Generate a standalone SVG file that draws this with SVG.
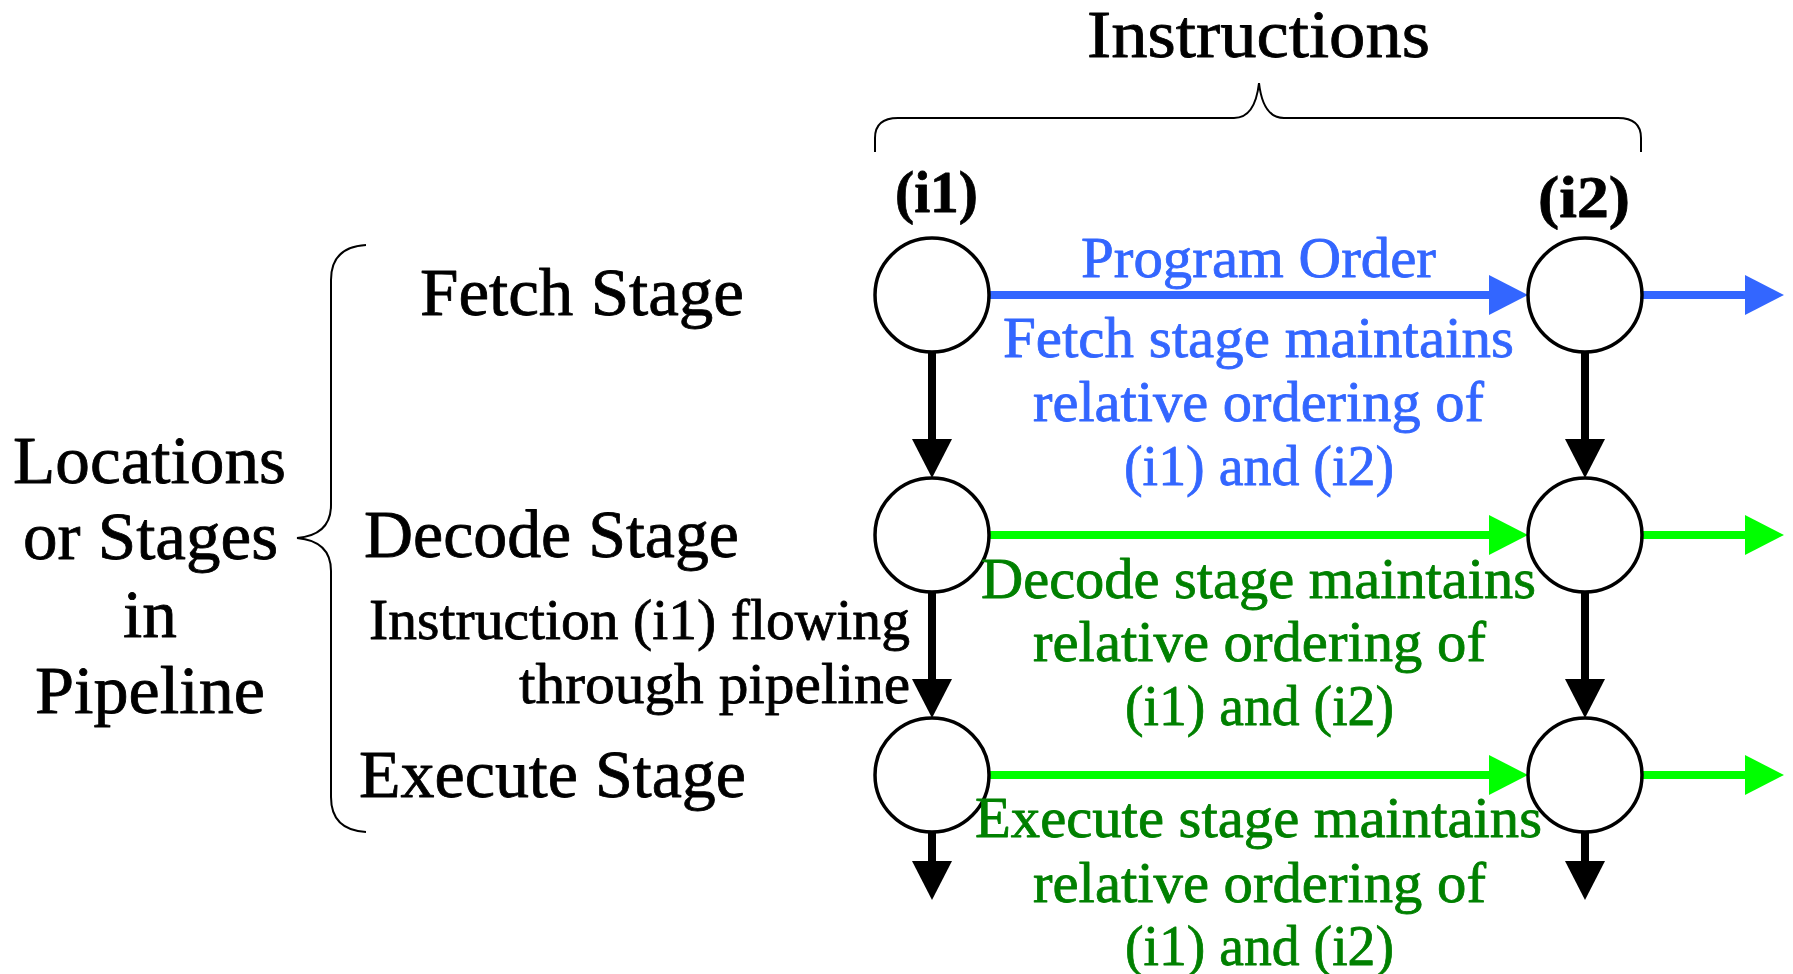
<svg xmlns="http://www.w3.org/2000/svg" width="1793" height="974" viewBox="0 0 1793 974">
  <style>
    text { font-family: "Liberation Serif", "Times New Roman", serif; stroke-width: 0.8; stroke-linejoin: round; }
    .lbl { font-size: 68px; fill: #000; stroke: #000; }
    .note { font-size: 58px; fill: #000; stroke: #000; }
    .blue { font-size: 58px; fill: #3366ff; stroke: #3366ff; }
    .green { font-size: 58px; fill: #008000; stroke: #008000; }
    .tag { font-size: 60px; font-weight: bold; fill: #000; stroke: #000; }
    .node { fill: #fff; stroke: #000; stroke-width: 3.5; }
    .brace { fill: none; stroke: #000; stroke-width: 2; }
    .flow { stroke: #000; stroke-width: 8; fill: none; }
    .order { stroke: #3366ff; stroke-width: 8; fill: none; }
    .keep { stroke: #00ff00; stroke-width: 8; fill: none; }
  </style>
  <defs>
    <marker id="headBlack" markerUnits="userSpaceOnUse" viewBox="0 0 39 40" refX="0" refY="20" markerWidth="39" markerHeight="40" orient="auto">
      <path d="M0,0 L39,20 L0,40 Z" fill="#000"/>
    </marker>
    <marker id="headBlue" markerUnits="userSpaceOnUse" viewBox="0 0 39 40" refX="0" refY="20" markerWidth="39" markerHeight="40" orient="auto">
      <path d="M0,0 L39,20 L0,40 Z" fill="#3366ff"/>
    </marker>
    <marker id="headGreen" markerUnits="userSpaceOnUse" viewBox="0 0 39 40" refX="0" refY="20" markerWidth="39" markerHeight="40" orient="auto">
      <path d="M0,0 L39,20 L0,40 Z" fill="#00ff00"/>
    </marker>
  </defs>

  <rect width="1793" height="974" fill="#fff"/>

  <!-- Braces -->
  <g id="braces">
    <path class="brace" d="M875,152 L875,138 Q875,118 898,118 L1234,118 Q1255,118 1259,83 Q1263,118 1284,118 L1618,118 Q1641,118 1641,138 L1641,152"/>
    <path class="brace" d="M366,245 Q331,247 331,280 L331,505 Q331,535 297,538 Q331,541 331,571 L331,797 Q331,830 366,832"/>
  </g>

  <!-- Headings -->
  <g id="titles">
    <text class="lbl" x="1087" y="57" font-size="70" textLength="343" lengthAdjust="spacingAndGlyphs">Instructions</text>
    <text class="tag" x="895" y="212" font-size="58" textLength="83" lengthAdjust="spacingAndGlyphs">(i1)</text>
    <text class="tag" x="1538" y="217" font-size="62" textLength="92" lengthAdjust="spacingAndGlyphs">(i2)</text>
  </g>

  <g id="side-label">
    <text class="lbl" x="13" y="483" font-size="69" textLength="273" lengthAdjust="spacingAndGlyphs">Locations</text>
    <text class="lbl" x="23" y="559" font-size="69" textLength="255" lengthAdjust="spacingAndGlyphs">or Stages</text>
    <text class="lbl" x="123" y="637" font-size="69" textLength="54" lengthAdjust="spacingAndGlyphs">in</text>
    <text class="lbl" x="35" y="713" font-size="69" textLength="230" lengthAdjust="spacingAndGlyphs">Pipeline</text>
  </g>

  <g id="stage-labels">
    <text class="lbl" x="420" y="315" textLength="324" lengthAdjust="spacingAndGlyphs">Fetch Stage</text>
    <text class="lbl" x="364" y="557" textLength="375" lengthAdjust="spacingAndGlyphs">Decode Stage</text>
    <text class="lbl" x="359" y="797" textLength="387" lengthAdjust="spacingAndGlyphs">Execute Stage</text>
    <text class="note" x="369" y="639" textLength="541" lengthAdjust="spacingAndGlyphs">Instruction (i1) flowing</text>
    <text class="note" x="519" y="703" textLength="391" lengthAdjust="spacingAndGlyphs">through pipeline</text>
  </g>

  <!-- Connectors -->
  <g id="connectors">
    <!-- program order / per-stage ordering -->
    <line class="order" x1="988" y1="295" x2="1489" y2="295" marker-end="url(#headBlue)"/>
    <line class="order" x1="1642" y1="295" x2="1745" y2="295" marker-end="url(#headBlue)"/>
    <line class="keep" x1="988" y1="535" x2="1489" y2="535" marker-end="url(#headGreen)"/>
    <line class="keep" x1="1642" y1="535" x2="1745" y2="535" marker-end="url(#headGreen)"/>
    <line class="keep" x1="988" y1="775" x2="1489" y2="775" marker-end="url(#headGreen)"/>
    <line class="keep" x1="1642" y1="775" x2="1745" y2="775" marker-end="url(#headGreen)"/>
    <!-- instruction flow down the pipeline -->
    <line class="flow" x1="932" y1="352" x2="932" y2="439" marker-end="url(#headBlack)"/>
    <line class="flow" x1="932" y1="592" x2="932" y2="679" marker-end="url(#headBlack)"/>
    <line class="flow" x1="932" y1="832" x2="932" y2="861" marker-end="url(#headBlack)"/>
    <line class="flow" x1="1585" y1="352" x2="1585" y2="439" marker-end="url(#headBlack)"/>
    <line class="flow" x1="1585" y1="592" x2="1585" y2="679" marker-end="url(#headBlack)"/>
    <line class="flow" x1="1585" y1="832" x2="1585" y2="861" marker-end="url(#headBlack)"/>
  </g>

  <!-- Pipeline slots -->
  <g id="i1-fetch"><circle class="node" cx="932" cy="295" r="57"/></g>
  <g id="i1-decode"><circle class="node" cx="932" cy="535" r="57"/></g>
  <g id="i1-execute"><circle class="node" cx="932" cy="775" r="57"/></g>
  <g id="i2-fetch"><circle class="node" cx="1585" cy="295" r="57"/></g>
  <g id="i2-decode"><circle class="node" cx="1585" cy="535" r="57"/></g>
  <g id="i2-execute"><circle class="node" cx="1585" cy="775" r="57"/></g>

  <!-- Ordering notes -->
  <g id="fetch-note">
    <text class="blue" x="1081" y="277" textLength="355" lengthAdjust="spacingAndGlyphs">Program Order</text>
    <text class="blue" x="1003" y="357" textLength="511" lengthAdjust="spacingAndGlyphs">Fetch stage maintains</text>
    <text class="blue" x="1033" y="421" textLength="451" lengthAdjust="spacingAndGlyphs">relative ordering of</text>
    <text class="blue" x="1124" y="485" textLength="270" lengthAdjust="spacingAndGlyphs">(i1) and (i2)</text>
  </g>
  <g id="decode-note">
    <text class="green" x="981" y="598" textLength="555" lengthAdjust="spacingAndGlyphs">Decode stage maintains</text>
    <text class="green" x="1033" y="661" textLength="453" lengthAdjust="spacingAndGlyphs">relative ordering of</text>
    <text class="green" x="1125" y="725" textLength="269" lengthAdjust="spacingAndGlyphs">(i1) and (i2)</text>
  </g>
  <g id="execute-note">
    <text class="green" x="975" y="837" textLength="567" lengthAdjust="spacingAndGlyphs">Execute stage maintains</text>
    <text class="green" x="1033" y="902" textLength="453" lengthAdjust="spacingAndGlyphs">relative ordering of</text>
    <text class="green" x="1125" y="965" textLength="269" lengthAdjust="spacingAndGlyphs">(i1) and (i2)</text>
  </g>
</svg>
